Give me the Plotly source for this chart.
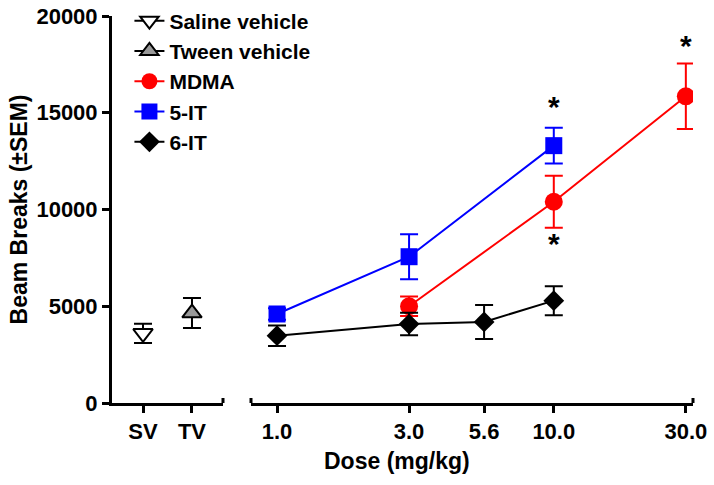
import numpy as np
import plotly.graph_objects as go

# ---- data ----
veh_labels = ["SV", "TV"]
sv_mean, sv_sem = [3600], [500]
tv_mean, tv_sem = [4650], [780]

mdma_dose = [3.0, 10.0, 30.0]
mdma_mean = [5000, 10400, 15850]
mdma_sem = [500, 1340, 1690]

it5_dose = [1.0, 3.0, 10.0]
it5_mean = [4600, 7560, 13300]
it5_sem = [300, 1160, 920]

it6_dose = [1.0, 3.0, 5.6, 10.0]
it6_mean = [3480, 4080, 4190, 5290]
it6_sem = [530, 580, 880, 750]

dose_ticks = [1.0, 3.0, 5.6, 10.0, 30.0]
dose_ticktext = ["1.0", "3.0", "5.6", "10.0", "30.0"]

y_ticks = [0, 5000, 10000, 15000, 20000]
y_ticktext = ["0", "5000", "10000", "15000", "20000"]

sig_dose = [10.0, 10.0, 30.0]
sig_y = [15300, 8250, 18500]

FONT = "Liberation Sans, Arial, sans-serif"

fig = go.Figure()

def eb(arr, color):
    return dict(type="data", array=arr, visible=True, color=color, thickness=2, width=9)

fig.add_trace(go.Scatter(
    x=[veh_labels[0]], y=sv_mean, name="Saline vehicle", mode="lines+markers",
    xaxis="x", yaxis="y",
    line=dict(color="black", width=2),
    marker=dict(symbol="triangle-down", size=17, color="white", line=dict(color="black", width=2)),
    error_y=eb(sv_sem, "black")))
fig.add_trace(go.Scatter(
    x=[veh_labels[1]], y=tv_mean, name="Tween vehicle", mode="lines+markers",
    xaxis="x", yaxis="y",
    line=dict(color="black", width=2),
    marker=dict(symbol="triangle-up", size=17, color="#999999", line=dict(color="black", width=2)),
    error_y=eb(tv_sem, "black")))
fig.add_trace(go.Scatter(
    x=mdma_dose, y=mdma_mean, name="MDMA", mode="lines+markers",
    xaxis="x2", yaxis="y",
    line=dict(color="#ff0000", width=2),
    marker=dict(symbol="circle", size=18, color="#ff0000"),
    error_y=eb(mdma_sem, "#ff0000")))
fig.add_trace(go.Scatter(
    x=it5_dose, y=it5_mean, name="5-IT", mode="lines+markers",
    xaxis="x2", yaxis="y",
    line=dict(color="#0000ff", width=2),
    marker=dict(symbol="square", size=17, color="#0000ff"),
    error_y=eb(it5_sem, "#0000ff")))
fig.add_trace(go.Scatter(
    x=it6_dose, y=it6_mean, name="6-IT", mode="lines+markers",
    xaxis="x2", yaxis="y",
    line=dict(color="black", width=2),
    marker=dict(symbol="diamond", size=16, color="black"),
    error_y=eb(it6_sem, "black")))

for d, yv in zip(sig_dose, sig_y):
    fig.add_annotation(x=np.log10(d), y=yv, xref="x2", yref="y", text="*",
                       showarrow=False, font=dict(family=FONT, size=30, color="black", weight="bold"))

W, H = 714, 485
L, R, T, B = 112, 21, 16, 82
pw = W - L - R
left_end = (223 - L) / pw
right_start = (251 - L) / pw

axis_common = dict(showgrid=False, zeroline=False, showline=True, linecolor="black", linewidth=3,
                   ticks="outside", ticklen=7, tickwidth=3, tickcolor="black", automargin=False,
                   ticklabeloverflow="allow",
                   tickfont=dict(family=FONT, size=22, color="black", weight="bold"))

fig.update_layout(
    width=W, height=H, margin=dict(l=L, r=R, t=T, b=B, autoexpand=False),
    paper_bgcolor="white", plot_bgcolor="white",
    showlegend=True,
    legend=dict(x=0.03, y=1.04, xanchor="left", yanchor="top", bgcolor="rgba(0,0,0,0)",
                font=dict(family=FONT, size=21, color="black", weight="bold"),
                tracegroupgap=0),
    xaxis=dict(domain=[0, left_end], type="category", categoryorder="array", categoryarray=veh_labels,
               range=[-0.633, 1.633], anchor="y", **axis_common),
    xaxis2=dict(domain=[right_start, 1], type="log", range=[-0.094, 1.503],
                tickvals=dose_ticks, ticktext=dose_ticktext, anchor="y", **axis_common),
    yaxis=dict(range=[0, 20000], tickvals=y_ticks, ticktext=y_ticktext, anchor="x",
               title=dict(text="Beam Breaks (\u00b1SEM)", standoff=3,
                          font=dict(family=FONT, size=23, color="black", weight="bold")),
               **axis_common),
)

fig.add_annotation(x=0.491, y=-0.15, xref="paper", yref="paper", text="Dose (mg/kg)", showarrow=False,
                   yanchor="middle", font=dict(family=FONT, size=23, color="black", weight="bold"))

# axis break end caps
for xp in [left_end, right_start, 1.0]:
    fig.add_shape(type="line", xref="paper", yref="y", ysizemode="pixel", yanchor=0,
                  x0=xp, x1=xp, y0=-6, y1=5, line=dict(color="black", width=3))

fig.write_html("out.html", config={"displayModeBar": False},
               post_script="document.body.style.margin='0';document.body.style.overflow='hidden';")
